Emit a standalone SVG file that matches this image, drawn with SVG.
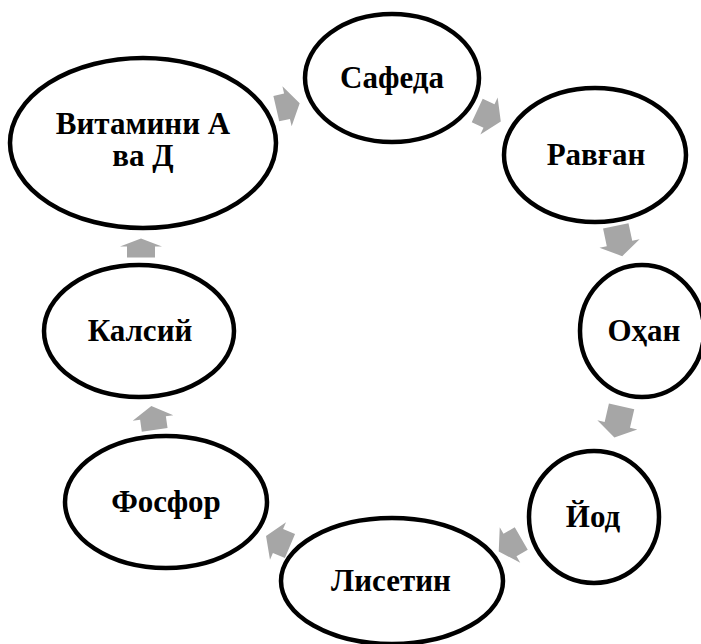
<svg xmlns="http://www.w3.org/2000/svg" width="701" height="644" viewBox="0 0 701 644">
<style>
.node ellipse{fill:#fff;stroke:#000;stroke-width:4.5}
.node text{font-family:"Liberation Serif","Times New Roman",serif;font-weight:bold;font-size:31px;text-anchor:middle;fill:#000}
.arr{fill:#A6A6A6}
</style>
<rect width="701" height="644" fill="#fff"/>
<g id="connectors">
<polygon class="arr" transform="translate(288,106) rotate(-13)" points="-12,-13 -1,-13 -1,-20.5 12,0 -1,20.5 -1,13 -12,13"/>
<polygon class="arr" transform="translate(489,116) rotate(25)" points="-13,-13 0,-13 0,-20.5 13,0 0,20.5 0,13 -13,13"/>
<polygon class="arr" transform="translate(619,241) rotate(78)" points="-15.5,-13 2.5,-13 2.5,-20.5 15.5,0 2.5,20.5 2.5,13 -15.5,13"/>
<polygon class="arr" transform="translate(618,422) rotate(103)" points="-16,-13 3,-13 3,-20.5 16,0 3,20.5 3,13 -16,13"/>
<polygon class="arr" transform="translate(510,545) rotate(150)" points="-13,-13 0,-13 0,-20.5 13,0 0,20.5 0,13 -13,13"/>
<polygon class="arr" transform="translate(278,541) rotate(203)" points="-13,-13 0,-13 0,-20.5 13,0 0,20.5 0,13 -13,13"/>
<polygon class="arr" transform="translate(153,418) rotate(262)" points="-12,-13 0,-13 0,-20.5 12,0 0,20.5 0,13 -12,13"/>
<polygon class="arr" transform="translate(141,248) rotate(270)" points="-9.5,-14 1.5,-14 1.5,-21 9.5,0 1.5,21 1.5,14 -9.5,14"/>
</g>
<g id="node-safeda" class="node"><ellipse cx="392" cy="78" rx="87" ry="64"/><text x="392" y="88">Сафеда</text></g>
<g id="node-ravgan" class="node"><ellipse cx="595" cy="155" rx="91" ry="67"/><text x="596" y="165">Равған</text></g>
<g id="node-ohan" class="node"><ellipse cx="642" cy="331" rx="62" ry="66"/><text x="644" y="341">Оҳан</text></g>
<g id="node-yod" class="node"><ellipse cx="594" cy="517" rx="65" ry="66"/><text x="593" y="527">Йод</text></g>
<g id="node-lisetin" class="node"><ellipse cx="392" cy="581" rx="111" ry="63"/><text x="391" y="591">Лисетин</text></g>
<g id="node-fosfor" class="node"><ellipse cx="166" cy="502" rx="101" ry="66"/><text x="166" y="512">Фосфор</text></g>
<g id="node-kalsiy" class="node"><ellipse cx="139" cy="331" rx="95" ry="66"/><text x="140" y="341">Калсий</text></g>
<g id="node-vitamin" class="node"><ellipse cx="143" cy="143" rx="133" ry="85"/><text x="143" y="134">Витамини А</text><text x="143" y="166">ва Д</text></g>
</svg>
